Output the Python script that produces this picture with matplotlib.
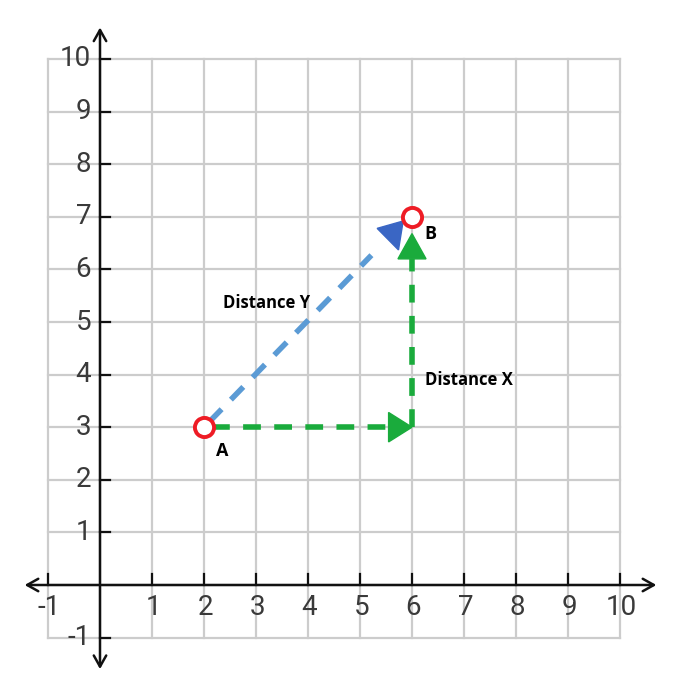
"""Coordinate grid with points A and B, the legs of the path between them and the direct path."""

import matplotlib.pyplot as plt
from matplotlib.patches import FancyArrowPatch

# Data
x_ticks = [-1, 1, 2, 3, 4, 5, 6, 7, 8, 9, 10]
y_ticks = [-1, 1, 2, 3, 4, 5, 6, 7, 8, 9, 10]
point_names = ["A", "B"]
point_x = [2, 6]
point_y = [3, 7]
corner = (6, 3)
label_texts = ["Distance Y", "Distance X"]

GRID = "#cccccc"
GREEN = "#1aab3c"
BLUE = "#5b9bd5"
BLUE_HEAD = "#3a66c4"
RED = "#ee1c25"
TICK_FONT = ["Roboto", "DejaVu Sans"]

fig = plt.figure(figsize=(6.79, 6.82), dpi=100)
ax = fig.add_axes([0, 0, 1, 1])
ax.set_xlim(-100 / 52, -100 / 52 + 679 / 52)
ax.set_ylim(-97 / 52.6, 585 / 52.6)
ax.axis("off")

# grid
for gx in range(-1, 11):
    ax.plot([gx, gx], [-1, 10], color=GRID, lw=1.6, zorder=1)
for gy in range(-1, 11):
    ax.plot([-1, 10], [gy, gy], color=GRID, lw=1.6, zorder=1)

# axes with open arrow heads
axis_style = dict(arrowstyle="<->,head_length=0.5,head_width=0.28", color="#111111",
                  lw=1.8, shrinkA=0, shrinkB=0, mutation_scale=16, zorder=3)
ax.add_patch(FancyArrowPatch((-1.45, 0), (10.7, 0), **axis_style))
ax.add_patch(FancyArrowPatch((0, -1.6), (0, 10.6), **axis_style))

# tick marks and labels
for tx in x_ticks:
    ax.plot([tx, tx], [0, 0.2], color="#111111", lw=1.6, zorder=3)
    ax.text(tx + 0.03, -0.42, str(tx), ha="center", va="center", fontsize=20,
            family=TICK_FONT, color="#3a3a3a", zorder=4)
for ty in y_ticks:
    ax.plot([0, 0.2], [ty, ty], color="#111111", lw=1.6, zorder=3)
    ax.text(-0.17, ty, str(ty), ha="right", va="center", fontsize=20,
            family=TICK_FONT, color="#3a3a3a", zorder=4)

ax_, ay_ = point_x[0], point_y[0]
bx_, by_ = point_x[1], point_y[1]

# green legs
ax.plot([ax_ + 0.15, corner[0] - 0.45], [ay_, corner[1]], color=GREEN, lw=4,
        dashes=(3.2, 2.4), zorder=5)
ax.add_patch(plt.Polygon([[corner[0], corner[1]], [corner[0] - 0.45, corner[1] + 0.28],
                          [corner[0] - 0.45, corner[1] - 0.28]], closed=True,
                         color=GREEN, zorder=6))
ax.plot([corner[0], bx_], [corner[1], by_ - 0.8], color=GREEN, lw=4,
        dashes=(3.2, 2.4), zorder=5)
ax.add_patch(plt.Polygon([[bx_, by_ - 0.32], [bx_ - 0.27, by_ - 0.8],
                          [bx_ + 0.27, by_ - 0.8]], closed=True, color=GREEN, zorder=6))

# blue direct path
ax.plot([ax_ + 0.1, 5.22], [ay_ + 0.1, 6.27], color=BLUE, lw=4,
        dashes=(3.2, 2.4), zorder=5)
ax.add_patch(plt.Polygon([[5.33, 6.78], [5.83, 6.92], [5.74, 6.37]], closed=True,
                         color=BLUE_HEAD, zorder=6))

# points A and B
ax.scatter(point_x, point_y, s=190, facecolors="white", edgecolors=RED,
           linewidths=2.8, zorder=7)
ax.text(ax_ + 0.35, ay_ - 0.45, point_names[0], fontsize=13, fontweight="bold",
        family="Open Sans", ha="center", va="center", zorder=8)
ax.text(bx_ + 0.35, by_ - 0.32, point_names[1], fontsize=13, fontweight="bold",
        family="Open Sans", ha="center", va="center", zorder=8)

# labels
ax.text(2.37, 5.37, label_texts[0], fontsize=12, fontweight="bold",
        family="Open Sans", ha="left", va="center", zorder=8)
ax.text(6.25, 3.9, label_texts[1], fontsize=12, fontweight="bold",
        family="Open Sans", ha="left", va="center", zorder=8)

fig.savefig("out.png", dpi=100)
